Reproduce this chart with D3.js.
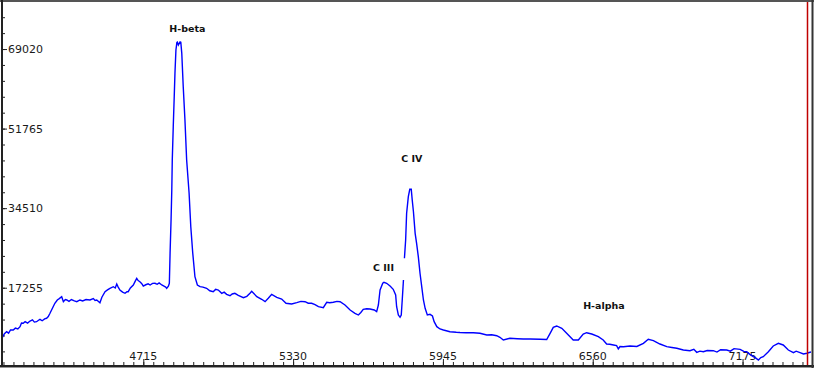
<!DOCTYPE html>
<html>
<head>
<meta charset="utf-8">
<script src="https://cdn.jsdelivr.net/npm/d3@7"></script>
<style>
  body { margin: 0; background: #fff; }
  svg { display: block; }
  .tick-label { font-family: "DejaVu Sans", sans-serif; font-size: 11px; fill: #1a1a1a; }
  .line-label { font-family: "DejaVu Sans", sans-serif; font-size: 9.5px; font-weight: bold; fill: #111; }
</style>
</head>
<body>
<svg id="chart" width="814" height="368"></svg>
<script>
// wavelength (Angstrom) and flux
const wavelength = [
  4135, 4138, 4145, 4154, 4162, 4170, 4181, 4190, 4200, 4209, 4215, 4222, 4230, 4240, 4250, 4260, 4268, 4277, 4285, 4291,
  4300, 4310, 4318, 4325, 4332, 4342, 4352, 4362, 4370, 4380, 4387, 4395, 4401, 4410, 4420, 4432, 4442, 4455, 4466, 4480,
  4496, 4510, 4517, 4524, 4537, 4545, 4558, 4568, 4578, 4592, 4600, 4606, 4612, 4619, 4630, 4640, 4648, 4653, 4662, 4674,
  4682, 4688, 4694, 4701, 4708, 4715, 4725, 4735, 4743, 4753, 4763, 4772, 4780, 4791, 4800, 4807, 4811, 4818, 4822,
  4825, 4829, 4832, 4834, 4838, 4842, 4845, 4849, 4853, 4855, 4859, 4866, 4869, 4873, 4879, 4886, 4893, 4903, 4910, 4918,
  4927, 4937, 4948, 4960, 4975, 4988, 5002, 5012, 5023, 5037, 5047, 5057, 5071, 5080, 5091, 5105, 5126, 5140, 5153, 5160,
  5181, 5201, 5215, 5228, 5242, 5263, 5283, 5301, 5324, 5345, 5362, 5379, 5392, 5406, 5420, 5434, 5454, 5468, 5480, 5495,
  5510, 5523, 5543, 5564, 5584, 5598, 5608, 5618, 5632, 5646, 5663, 5673, 5680, 5687, 5698, 5703, 5714, 5728, 5741, 5751,
  5755, 5762, 5769, 5774, 5778, 5783, 5785,
  5787, 5792, 5796, 5803, 5809, 5815, 5819, 5824, 5831, 5837, 5844, 5851, 5858, 5865, 5872, 5881, 5892, 5902, 5909, 5920,
  5933, 5947, 5974, 6000, 6015, 6040, 6070, 6097, 6125, 6145, 6166, 6179, 6193, 6220, 6250, 6275, 6303, 6344, 6371, 6385,
  6398, 6412, 6433, 6453, 6480, 6501, 6521, 6535, 6556, 6583, 6603, 6617, 6630, 6645, 6658, 6665, 6672, 6686, 6713, 6741,
  6768, 6788, 6809, 6836, 6864, 6885, 6905, 6932, 6959, 6975, 6987, 7000, 7014, 7030, 7055, 7070, 7085, 7110, 7125, 7140,
  7165, 7180, 7192, 7205, 7219, 7230, 7240, 7250, 7260, 7281, 7301, 7322, 7342, 7363, 7384, 7395, 7411, 7425, 7439, 7456
];
const flux = [
  6790, 6600, 7300, 7720, 7400, 8100, 8090, 8500, 8300, 8800, 9600, 9540, 9900, 9600, 10040, 10300, 9800, 9890, 10200, 10410,
  10100, 10500, 10630, 11000, 11710, 12800, 13880, 14600, 14900, 15310, 14230, 14700, 14600, 14300, 14700, 14400, 14230, 14600, 14400, 14700,
  14600, 14900, 14500, 14600, 14010, 15200, 16400, 16800, 17130, 17480, 17200, 18060, 17400, 16760, 16300, 16050, 16400, 16400, 17200, 17850,
  18700, 19300, 18800, 18560, 18200, 17630, 17900, 18100, 17850, 18200, 18220, 18000, 18300, 17850, 17600, 17400, 17130, 17600, 18220,
  24790, 31940, 38450, 44960, 52180, 58680, 63760, 68810, 70480, 70550, 69900, 70550, 70480, 68090, 60850, 53630, 44960, 37800, 30490, 24790,
  19650, 17850, 17480, 17400, 17130, 16600, 16400, 16900, 16760, 16050, 16300, 15830, 15530, 15900, 16050, 15600, 15090, 15400, 16050, 16500,
  15310, 14750, 14230, 14960, 15830, 15180, 14810, 13880, 13730, 14010, 14300, 14230, 13900, 13880, 13600, 13140, 12930, 14100, 14000, 14100,
  14300, 14230, 13510, 12430, 11710, 11340, 11900, 12580, 12700, 12640, 12430, 12060, 13510, 16760, 18220, 18430, 18220, 17630, 16920, 15680,
  13140, 11340, 10840, 11340, 14600, 18930, null,
  23640, 27610, 33400, 37000, 38600, 38600, 36280, 33740, 29060, 26890, 23990, 20390, 17480, 14600, 12800, 11340, 11490, 11130, 9890, 8810,
  8310, 8090, 7720, 7600, 7550, 7500, 7500, 7370, 7000, 7050, 6850, 6510, 5920, 6290, 6200, 6150, 6140, 6070, 6030, 7370,
  8670, 8960, 8460, 7370, 5920, 5920, 7220, 7500, 7220, 6640, 5920, 5050, 5000, 4840, 4700, 3970, 4500, 4470, 4620, 4510,
  5200, 6070, 5770, 5050, 4470, 4300, 4120, 3750, 3600, 3900, 3250, 3500, 3380, 3650, 3600, 3300, 3800, 3750, 3500, 4050,
  3900, 3450, 3380, 2800, 2300, 2000, 1580, 2100, 2300, 3380, 4620, 5200, 4840, 3750, 3170, 3500, 3170, 2900, 3040, 3320
];
const yMajor = [17255, 34510, 51765, 69020];
const xMajor = [4715, 5330, 5945, 6560, 7175];
const lineLabels = ["H-beta", "C IV", "C III", "H-alpha"];
const labelWave = [4896, 5817, 5701, 6606];
const labelFlux = [72710, 44590, 20880, 12640];

const svg = d3.select("#chart");
const W = 814, H = 368;

const x = d3.scaleLinear().domain([4135, 7456]).range([2, 811]);
const y = d3.scaleLinear().domain([0, 79220]).range([367.3, 2]);

const yMinor = d3.range(0, 79220, 17255 / 5);
const xMinor = d3.range(4715 - 41 * 14, 7456, 615 / 15);

svg.append("rect").attr("width", W).attr("height", H).attr("fill", "#fff");

// ticks on the left, pointing into the plot
svg.append("g")
  .attr("transform", "translate(2,0)")
  .call(d3.axisRight(y).tickValues(yMinor).tickSize(3).tickFormat(""))
  .call(g => g.select(".domain").remove())
  .selectAll("line").attr("stroke", "#222");
svg.append("g")
  .attr("transform", "translate(2,0)")
  .call(d3.axisRight(y).tickValues(yMajor).tickSize(5).tickFormat(""))
  .call(g => g.select(".domain").remove())
  .selectAll("line").attr("stroke", "#222");

// ticks on the bottom, pointing up
svg.append("g")
  .attr("transform", "translate(0,365)")
  .call(d3.axisTop(x).tickValues(xMinor).tickSize(3).tickFormat(""))
  .call(g => g.select(".domain").remove())
  .selectAll("line").attr("stroke", "#222");
svg.append("g")
  .attr("transform", "translate(0,365)")
  .call(d3.axisTop(x).tickValues(xMajor).tickSize(6).tickFormat(""))
  .call(g => g.select(".domain").remove())
  .selectAll("line").attr("stroke", "#222");

svg.selectAll(".ylab").data(yMajor).enter().append("text")
  .attr("class", "tick-label")
  .attr("x", 8)
  .attr("y", d => y(d) + 4)
  .text(d => d);

svg.selectAll(".xlab").data(xMajor).enter().append("text")
  .attr("class", "tick-label")
  .attr("text-anchor", "middle")
  .attr("x", d => x(d))
  .attr("y", 360)
  .text(d => d);

// spectrum
const pts = wavelength.map((w, i) => ({w: w, f: flux[i]}));
svg.append("clipPath").attr("id", "clip")
  .append("rect").attr("x", 2).attr("y", 2).attr("width", 809).attr("height", 363);
svg.append("path")
  .datum(pts)
  .attr("clip-path", "url(#clip)")
  .attr("fill", "none")
  .attr("stroke", "#0000ff")
  .attr("stroke-width", 1.4)
  .attr("d", d3.line().defined(d => d.f != null).x(d => x(d.w)).y(d => y(d.f)));

svg.selectAll(".lbl").data(lineLabels).enter().append("text")
  .attr("class", "line-label")
  .attr("text-anchor", "middle")
  .attr("x", (d, i) => x(labelWave[i]))
  .attr("y", (d, i) => y(labelFlux[i]))
  .text(d => d);

// frame
svg.append("line").attr("x1", 0).attr("x2", W).attr("y1", 1).attr("y2", 1).attr("stroke", "#555").attr("stroke-width", 2);
svg.append("line").attr("x1", 2).attr("x2", 2).attr("y1", 0).attr("y2", 367).attr("stroke", "#222").attr("stroke-width", 2);
svg.append("line").attr("x1", 0).attr("x2", W).attr("y1", 366).attr("y2", 366).attr("stroke", "#222").attr("stroke-width", 2);
svg.append("line").attr("x1", 0).attr("x2", W).attr("y1", 367.5).attr("y2", 367.5).attr("stroke", "#999").attr("stroke-width", 1);
svg.append("line").attr("x1", 807.5).attr("x2", 807.5).attr("y1", 2).attr("y2", 365).attr("stroke", "#c00000").attr("stroke-width", 1.5);
svg.append("line").attr("x1", 812.5).attr("x2", 812.5).attr("y1", 0).attr("y2", H).attr("stroke", "#333").attr("stroke-width", 2);
</script>
</body>
</html>
